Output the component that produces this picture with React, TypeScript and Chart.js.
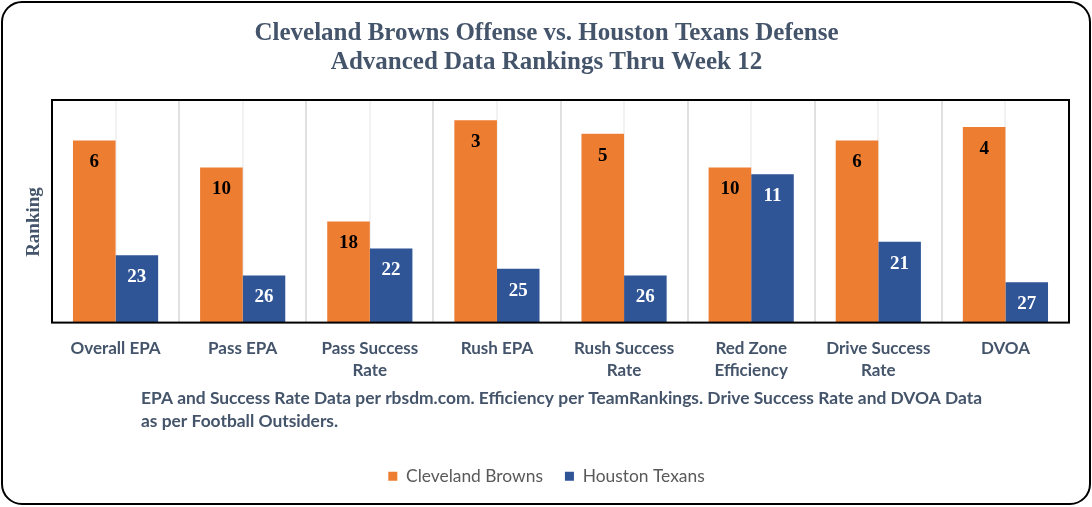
import React, { useEffect, useRef } from "react";
import { Chart, registerables } from "chart.js";

Chart.register(...registerables);

// ---- data ----
const categories: string[][] = [
  ["Overall EPA"],
  ["Pass EPA"],
  ["Pass Success", "Rate"],
  ["Rush EPA"],
  ["Rush Success", "Rate"],
  ["Red Zone", "Efficiency"],
  ["Drive Success", "Rate"],
  ["DVOA"],
];
const brownsRanks = [6, 10, 18, 3, 5, 10, 6, 4];
const texansRanks = [23, 26, 22, 25, 26, 11, 21, 27];
const seriesNames = ["Cleveland Browns", "Houston Texans"];
const titleLines = [
  "Cleveland Browns Offense vs. Houston Texans Defense",
  "Advanced Data Rankings Thru Week 12",
];
const footnoteLines = [
  "EPA and Success Rate Data per rbsdm.com. Efficiency per TeamRankings. Drive Success Rate and DVOA Data",
  "as per Football Outsiders.",
];
const rankAxisTitle = "Ranking";
const rankAxisMin = 0;
const rankAxisMax = 33;

// ---- styles ----
const ORANGE = "#ED7D31";
const BLUE = "#2F5597";
const SLATE = "#44546A";
const SERIF = "'Liberation Serif', 'Times New Roman', serif";
const SANS = "Lato, 'Open Sans', sans-serif";

const framePlugin = {
  id: "frame",
  beforeDraw(chart: any) {
    const { ctx } = chart;
    ctx.save();
    ctx.fillStyle = "#ffffff";
    ctx.fillRect(0, 0, chart.width, chart.height);
    ctx.beginPath();
    ctx.roundRect(2, 2, chart.width - 4, chart.height - 5, 20);
    ctx.lineWidth = 2;
    ctx.strokeStyle = "#000000";
    ctx.stroke();
    ctx.restore();
  },
};

const gridPlugin = {
  id: "catGrid",
  beforeDatasetsDraw(chart: any) {
    const { ctx, chartArea } = chart;
    const x = chart.scales.x;
    ctx.save();
    ctx.lineWidth = 2;
    ctx.strokeStyle = "#F2F2F2";
    for (let i = 0; i < categories.length; i++) {
      const px = Math.round(x.getPixelForValue(i));
      ctx.beginPath();
      ctx.moveTo(px, chartArea.top);
      ctx.lineTo(px, chartArea.bottom);
      ctx.stroke();
    }
    ctx.strokeStyle = "#E0E0E0";
    for (let i = 0; i < categories.length - 1; i++) {
      const px = Math.round(x.getPixelForValue(i + 0.5));
      ctx.beginPath();
      ctx.moveTo(px, chartArea.top);
      ctx.lineTo(px, chartArea.bottom);
      ctx.stroke();
    }
    ctx.restore();
  },
  afterDatasetsDraw(chart: any) {
    const { ctx, chartArea } = chart;
    ctx.save();
    ctx.font = `bold 19px ${SERIF}`;
    ctx.textAlign = "center";
    ctx.textBaseline = "middle";
    chart.data.datasets.forEach((ds: any, di: number) => {
      const meta = chart.getDatasetMeta(di);
      ctx.fillStyle = di === 0 ? "#000000" : "#FFFFFF";
      meta.data.forEach((bar: any, i: number) => {
        ctx.fillText(String(ds.data[i]), bar.x, bar.y + 22);
      });
    });
    ctx.lineWidth = 2;
    ctx.strokeStyle = "#000000";
    ctx.strokeRect(chartArea.left, chartArea.top, chartArea.right - chartArea.left, chartArea.bottom - chartArea.top);
    ctx.restore();
  },
  afterDraw(chart: any) {
    const { ctx } = chart;
    ctx.save();
    ctx.fillStyle = SLATE;
    ctx.font = `bold 19px ${SERIF}`;
    ctx.textAlign = "center";
    ctx.textBaseline = "middle";
    ctx.translate(34, 222);
    ctx.rotate(-Math.PI / 2);
    ctx.fillText(rankAxisTitle, 0, 0);
    ctx.restore();
    ctx.save();
    ctx.fillStyle = SLATE;
    ctx.font = `bold 17.4px ${SANS}`;
    ctx.textAlign = "left";
    ctx.textBaseline = "middle";
    footnoteLines.forEach((line, i) => {
      ctx.fillText(line, 141, 398 + i * 23);
    });
    ctx.restore();
  },
};

export default function App() {
  const canvasRef = useRef<HTMLCanvasElement | null>(null);

  useEffect(() => {
    const canvas = canvasRef.current;
    if (!canvas) return;
    const chart = new Chart(canvas, {
      type: "bar",
      data: {
        labels: categories,
        datasets: [
          {
            label: seriesNames[0],
            data: brownsRanks,
            backgroundColor: ORANGE,
            base: rankAxisMax,
            categoryPercentage: 0.67,
            barPercentage: 1.0,
          } as any,
          {
            label: seriesNames[1],
            data: texansRanks,
            backgroundColor: BLUE,
            base: rankAxisMax,
            categoryPercentage: 0.67,
            barPercentage: 1.0,
          } as any,
        ],
      },
      options: {
        animation: false,
        responsive: false,
        maintainAspectRatio: false,
        layout: { padding: { left: 24, right: 23, top: 0, bottom: 12 } },
        plugins: {
          title: {
            display: true,
            text: titleLines,
            color: SLATE,
            font: { family: SERIF, size: 25, weight: "bold", lineHeight: 1.16 },
            padding: { top: 19, bottom: 23 },
          },
          legend: {
            display: true,
            position: "bottom",
            labels: {
              boxWidth: 9,
              boxHeight: 9,
              color: "#595959",
              padding: 22,
              font: { family: SANS, size: 17.4 },
            },
          },
          tooltip: { enabled: false },
        },
        scales: {
          x: {
            grid: { display: false, drawTicks: false },
            border: { display: false },
            ticks: {
              color: SLATE,
              font: { family: SANS, size: 17, weight: "bold", lineHeight: 1.3 },
              padding: 15,
              maxRotation: 0,
              autoSkip: false,
            },
            afterFit(scale: any) {
              scale.height = 123;
            },
          },
          y: {
            display: true,
            reverse: true,
            min: rankAxisMin,
            max: rankAxisMax,
            grid: { display: false, drawTicks: false },
            border: { display: false },
            ticks: { display: false },
            afterFit(scale: any) {
              scale.width = 28;
            },
          },
        },
      },
      plugins: [framePlugin, gridPlugin],
    });
    return () => chart.destroy();
  }, []);

  return (
    <div style={{ position: "fixed", left: 0, top: 0, width: 1092, height: 507, background: "#fff" }}>
      <canvas ref={canvasRef} width={1092} height={507} style={{ display: "block", width: 1092, height: 507 }} />
    </div>
  );
}
